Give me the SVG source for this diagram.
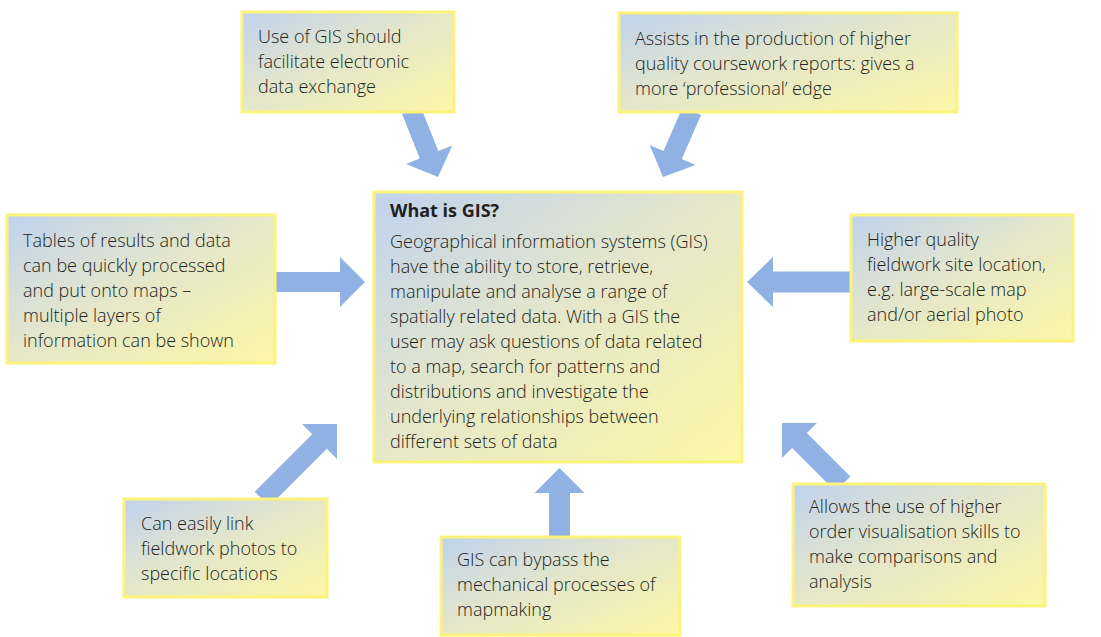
<svg xmlns="http://www.w3.org/2000/svg" width="1101" height="637" viewBox="0 0 1101 637">
<defs>
<linearGradient id="bg" x1="0" y1="0" x2="1" y2="1">
<stop offset="0" stop-color="#c0d2ee"/>
<stop offset="0.45" stop-color="#e3e6cc"/>
<stop offset="1" stop-color="#fdf7a6"/>
</linearGradient>
<style>
.box{fill:url(#bg);stroke:#fbf37a;stroke-width:3}
.t{font-family:"Open Sans","Noto Sans",sans-serif;font-size:18px;font-weight:300;fill:#231f20}
.b{font-weight:bold}
.arr{fill:#8fb1e3}
</style>
</defs>
<rect width="1101" height="637" fill="#ffffff"/>
<g id="connectors">
<polygon class="arr" transform="translate(438,177) rotate(68.2)" points="-72,-10 -24,-10 -24,-25 0,0 -24,25 -24,10 -72,10"/>
<polygon class="arr" transform="translate(663,177) rotate(113.6)" points="-72,-10 -24,-10 -24,-25 0,0 -24,25 -24,10 -72,10"/>
<polygon class="arr" transform="translate(365,282)" points="-90,-10 -25,-10 -25,-25 0,0 -25,25 -25,10 -90,10"/>
<polygon class="arr" transform="translate(747,282) rotate(180)" points="-104,-10.5 -26,-10.5 -26,-25 0,0 -26,25 -26,10.5 -104,10.5"/>
<polygon class="arr" transform="translate(559.5,468) rotate(-90)" points="-70,-10.5 -25,-10.5 -25,-25 0,0 -25,25 -25,10.5 -70,10.5"/>
<polygon class="arr" transform="translate(337,424) rotate(-45)" points="-106,-10.3 -24.7,-10.3 -24.7,-24.7 0,0 -24.7,24.7 -24.7,10.3 -106,10.3"/>
<polygon class="arr" transform="translate(782,423) rotate(-135)" points="-86,-10.5 -24.7,-10.5 -24.7,-24.7 0,0 -24.7,24.7 -24.7,10.5 -86,10.5"/>
</g>
<g id="node-exchange">
<rect class="box" x="242" y="12" width="212" height="100"/>
<text class="t" x="258" y="43">Use of GIS should</text>
<text class="t" x="258" y="68">facilitate electronic</text>
<text class="t" x="258" y="93">data exchange</text>
</g>
<g id="node-reports">
<rect class="box" x="619" y="13" width="338" height="99"/>
<text class="t" x="635" y="45">Assists in the production of higher</text>
<text class="t" x="635" y="70">quality coursework reports: gives a</text>
<text class="t" x="635" y="95">more ‘professional’ edge</text>
</g>
<g id="node-center">
<rect class="box" x="374" y="192" width="368" height="270"/>
<text class="t b" x="390" y="217">What is GIS?</text>
<text class="t" x="390" y="248">Geographical information systems (GIS)</text>
<text class="t" x="390" y="273">have the ability to store, retrieve,</text>
<text class="t" x="390" y="298">manipulate and analyse a range of</text>
<text class="t" x="390" y="323">spatially related data. With a GIS the</text>
<text class="t" x="390" y="348">user may ask questions of data related</text>
<text class="t" x="390" y="373">to a map, search for patterns and</text>
<text class="t" x="390" y="398">distributions and investigate the</text>
<text class="t" x="390" y="423">underlying relationships between</text>
<text class="t" x="390" y="448">different sets of data</text>
</g>
<g id="node-tables">
<rect class="box" x="7" y="215" width="268" height="148"/>
<text class="t" x="23" y="247">Tables of results and data</text>
<text class="t" x="23" y="272">can be quickly processed</text>
<text class="t" x="23" y="297">and put onto maps –</text>
<text class="t" x="23" y="322">multiple layers of</text>
<text class="t" x="23" y="347">information can be shown</text>
</g>
<g id="node-site">
<rect class="box" x="851" y="215" width="222" height="126"/>
<text class="t" x="867" y="246">Higher quality</text>
<text class="t" x="867" y="271">fieldwork site location,</text>
<text class="t" x="867" y="296">e.g. large-scale map</text>
<text class="t" x="867" y="321">and/or aerial photo</text>
</g>
<g id="node-photos">
<rect class="box" x="124" y="499" width="203" height="98"/>
<text class="t" x="141" y="530">Can easily link</text>
<text class="t" x="141" y="555">fieldwork photos to</text>
<text class="t" x="141" y="580">specific locations</text>
</g>
<g id="node-mapmaking">
<rect class="box" x="441" y="537" width="239" height="98"/>
<text class="t" x="457" y="566">GIS can bypass the</text>
<text class="t" x="457" y="591">mechanical processes of</text>
<text class="t" x="457" y="616">mapmaking</text>
</g>
<g id="node-visualisation">
<rect class="box" x="793" y="484" width="252" height="122"/>
<text class="t" x="809" y="513">Allows the use of higher</text>
<text class="t" x="809" y="538">order visualisation skills to</text>
<text class="t" x="809" y="563">make comparisons and</text>
<text class="t" x="809" y="588">analysis</text>
</g>
</svg>
